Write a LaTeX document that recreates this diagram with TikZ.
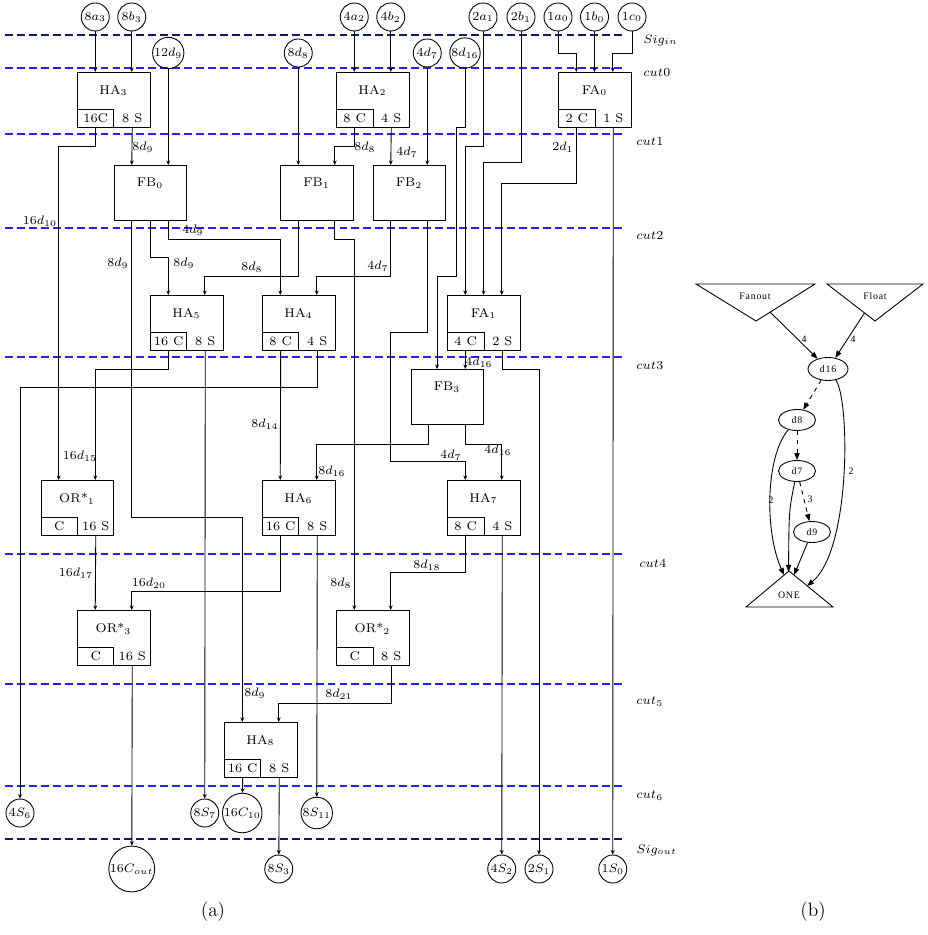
\documentclass[tikz,border=0pt]{standalone}
\usepackage{fontspec}
\newfontfamily\gvfont[LetterSpace=8]{Liberation Serif}
\usetikzlibrary{arrows.meta,shapes.geometric}
\definecolor{cutblue}{RGB}{35,35,245}
\definecolor{sigblue}{RGB}{20,20,120}
\tikzset{
  box/.style={draw, line width=0.5pt, minimum width=1.46cm, minimum height=1.1cm, inner sep=0pt, anchor=north west},
  subl/.style={draw, line width=0.5pt, minimum width=0.73cm, minimum height=0.36cm, inner sep=0pt, anchor=south west},
  subr/.style={minimum width=0.73cm, minimum height=0.36cm, inner sep=0pt, anchor=south east},
  sig/.style={circle, draw, line width=0.5pt, minimum size=0.56cm, inner sep=0.3pt},
  wire/.style={line width=0.5pt, -{Stealth[length=2.6pt,width=2.2pt]}},
  lab/.style={inner sep=0pt},
  cutline/.style={cutblue, dash pattern=on 4.5pt off 2.3pt, line width=0.6pt},
  sigline/.style={sigblue, dash pattern=on 4.5pt off 2.3pt, line width=0.6pt},
  gv/.style={line width=0.5pt},
  garr/.style={line width=0.5pt, -{Triangle[length=4pt,width=3pt]}},
  gdash/.style={dash pattern=on 2.5pt off 2.5pt},
  gnode/.style={ellipse, draw, line width=0.5pt, inner sep=0pt, font=\gvfont\fontsize{5.6}{6.5}\selectfont},
  gtxt/.style={inner sep=0pt, font=\gvfont\fontsize{5.6}{6.5}\selectfont},
}
\newcommand\mkblock[6]{%
  \node[box] (#1) at (#2,#3) {};
  \node[lab] (#1t) at ({#2+36.5},{#3+18.5}) {#4};
  \node[subl] (#1l) at (#1.south west) {#5};
  \node[subr] (#1r) at (#1.south east) {#6};
  \coordinate (#1i1) at ({#2+18.25},#3);
  \coordinate (#1im) at ({#2+36.5},#3);
  \coordinate (#1i2) at ({#2+54.75},#3);
}
\newcommand\mkfb[4]{%
  \node[box] (#1) at (#2,#3) {};
  \node[lab] (#1t) at ({#2+36.5},{#3+18.5}) {#4};
  \coordinate (#1i1) at ({#2+18.25},#3);
  \coordinate (#1i2) at ({#2+54.75},#3);
  \coordinate (#1o1) at ({#2+18.25},{#3+55});
  \coordinate (#1om) at ({#2+36.5},{#3+55});
  \coordinate (#1o2) at ({#2+54.75},{#3+55});
}
\begin{document}
\begin{tikzpicture}[x=0.02cm,y=-0.02cm,font=\fontsize{7.2}{8.6}\selectfont]
\useasboundingbox (0,0) rectangle (927,935);

% cut lines
\draw[sigline] (5,35) -- (623,35);
\draw[cutline] (5,68) -- (623,68);
\draw[cutline] (5,134) -- (623,134);
\draw[cutline] (5,228) -- (623,228);
\draw[cutline] (5,357) -- (623,357);
\draw[cutline] (5,554) -- (623,554);
\draw[cutline] (5,684) -- (623,684);
\draw[cutline] (5,786) -- (623,786);
\draw[sigline] (5,839) -- (623,839);
\node[lab,anchor=west] (Lsigin) at (643,40) {$Sig_{in}$};
\node[lab,anchor=west] (Lc0) at (643,73) {$cut0$};
\node[lab,anchor=west] (Lc1) at (636,142) {$cut1$};
\node[lab,anchor=west] (Lc2) at (636,236) {$cut2$};
\node[lab,anchor=west] (Lc3) at (636,366) {$cut3$};
\node[lab,anchor=west] (Lc4) at (639,564) {$cut4$};
\node[lab,anchor=west] (Lc5) at (636,702) {$cut_5$};
\node[lab,anchor=west] (Lc6) at (636,796) {$cut_6$};
\node[lab,anchor=west] (Lsigout) at (636,850) {$Sig_{out}$};

% blocks
\mkblock{HA3}{77}{72}{HA$_3$}{16C}{8 S}
\mkblock{HA2}{336}{72}{HA$_2$}{8 C}{4 S}
\mkblock{FA0}{558}{72}{FA$_0$}{2 C}{1 S}
\mkfb{FB0}{113.5}{165}{FB$_0$}
\mkfb{FB1}{280}{165}{FB$_1$}
\mkfb{FB2}{372.5}{165}{FB$_2$}
\mkblock{HA5}{150}{295}{HA$_5$}{16 C}{8 S}
\mkblock{HA4}{262}{295}{HA$_4$}{8 C}{4 S}
\mkblock{FA1}{447}{295}{FA$_1$}{4 C}{2 S}
\mkfb{FB3}{410.5}{369}{FB$_3$}
\coordinate (FB3ia) at (437,369);
\mkblock{OR1}{40.5}{480}{OR*$_1$}{C}{16 S}
\mkblock{HA6}{262}{480}{HA$_6$}{16 C}{8 S}
\mkblock{HA7}{447}{480}{HA$_7$}{8 C}{4 S}
\mkblock{OR3}{77}{610}{OR*$_3$}{C}{16 S}
\mkblock{OR2}{336}{610}{OR*$_2$}{C}{8 S}
\mkblock{HA8}{224}{722}{HA$_8$}{16 C}{8 S}

% signal circles
\node[sig] (s8a3) at (95.25,17) {$8a_3$};
\node[sig] (s8b3) at (131.75,17) {$8b_3$};
\node[sig] (s4a2) at (354.25,17) {$4a_2$};
\node[sig] (s4b2) at (390.75,17) {$4b_2$};
\node[sig] (s2a1) at (483,17) {$2a_1$};
\node[sig] (s2b1) at (521,17) {$2b_1$};
\node[sig] (s1a0) at (558,17) {$1a_0$};
\node[sig] (s1b0) at (594.5,17) {$1b_0$};
\node[sig] (s1c0) at (632,17) {$1c_0$};
\node[sig] (s12d9) at (168.25,53) {$12d_9$};
\node[sig] (s8d8) at (298.25,53) {$8d_8$};
\node[sig] (s4d7) at (427.25,53) {$4d_7$};
\node[sig] (s8d16) at (465,53) {$8d_{16}$};
\node[sig] (s4S6) at (20,813) {$4S_6$};
\node[sig] (s8S7) at (204.75,813) {$8S_7$};
\node[sig, minimum size=0.72cm] (s16C10) at (242.25,813) {$16C_{10}$};
\node[sig] (s8S11) at (316.75,813) {$8S_{11}$};
\node[sig, minimum size=0.8cm] (s16Cout) at (131.75,869) {$16C_{out}$};
\node[sig] (s8S3) at (278.75,869) {$8S_3$};
\node[sig] (s4S2) at (501.75,869) {$4S_2$};
\node[sig] (s2S1) at (539,869) {$2S_1$};
\node[sig] (s1S0) at (612.75,869) {$1S_0$};

% wires
\draw[wire] (s8a3) -- (HA3i1);
\draw[wire] (s8b3) -- (HA3i2);
\draw[wire] (HA3l.south) -- ++(0,19) -| (OR1i1);
\draw[wire] (HA3r.south) -- (FB0i1);
\draw[wire] (s12d9) -- (FB0i2);
\draw[wire] (s8d8) -- (FB1i1);
\draw[wire] (FB0o1) -- ++(0,297) -| (HA8i1);
\draw[wire] (FB0om) -- ++(0,37) -| (HA5i1);
\draw[wire] (FB0o2) -- ++(0,19) -| (HA4i1);
\draw[wire] (FB1o1) -- ++(0,56) -| (HA5i2);
\draw[wire] (FB1o2) -- ++(0,19) -| (OR2i1);
\draw[wire] (s4a2) -- (HA2i1);
\draw[wire] (s4b2) -- (HA2i2);
\draw[wire] (HA2l.south) -- ++(0,19) -| (FB1i2);
\draw[wire] (HA2r.south) -- (FB2i1);
\draw[wire] (s4d7) -- (FB2i2);
\draw[wire] (FB2o1) -- ++(0,56) -| (HA4i2);
\draw[wire] (FB2o2) -- ++(0,112) -- ++(-36.5,0) -- ++(0,129) -| (HA7i1);
\draw[wire] (s8d16) -- ++(0,74) -- ++(-9,0) -- ++(0,149) -| (FB3ia);
\draw[wire] (s2a1) -- ++(0,129) -| (FA1i1);
\draw[wire] (s2b1) -- ++(0,145) -| (FA1im);
\draw[wire] (FA0l.south) -- ++(0,56) -| (FA1i2);
\draw[wire] (FA0r.south) -- (s1S0);
\draw[wire] (s1a0) -- ++(0,36) -| (FA0i1);
\draw[wire] (s1b0) -- (FA0im);
\draw[wire] (s1c0) -- ++(0,36) -| (FA0i2);
\draw[wire] (FA1l.south) -- (FB3i2);
\draw[wire] (FA1r.south) -- ++(0,19) -| (s2S1);
\draw[wire] (FB3o1) -- ++(0,20) -| (HA6i2);
\draw[wire] (FB3o2) -- ++(0,20) -| (HA7i2);
\draw[wire] (HA5l.south) -- ++(0,19) -| (OR1i2);
\draw[wire] (HA5r.south) -- (s8S7);
\draw[wire] (HA4l.south) -- (HA6i1);
\draw[wire] (HA4r.south) -- ++(0,37) -| (s4S6);
\draw[wire] (OR1r.south) -- (OR3i1);
\draw[wire] (HA6l.south) -- ++(0,56) -| (OR3i2);
\draw[wire] (HA6r.south) -- (s8S11);
\draw[wire] (HA7l.south) -- ++(0,37) -| (OR2i2);
\draw[wire] (HA7r.south) -- (s4S2);
\draw[wire] (OR3r.south) -- (s16Cout);
\draw[wire] (OR2r.south) -- ++(0,38) -| (HA8i2);
\draw[wire] (HA8l.south) -- (s16C10);
\draw[wire] (HA8r.south) -- (s8S3);

% wire labels
\node[lab] (w1) at (40,221) {$16d_{10}$};
\node[lab] (w2) at (143,147) {$8d_9$};
\node[lab] (w3) at (118,263) {$8d_9$};
\node[lab] (w4) at (184,263) {$8d_9$};
\node[lab] (w5) at (193,230) {$4d_9$};
\node[lab] (w6) at (252,267) {$8d_8$};
\node[lab] (w7) at (365,147) {$8d_8$};
\node[lab] (w8) at (407,152) {$4d_7$};
\node[lab] (w9) at (378,266) {$4d_7$};
\node[lab] (w10) at (563,147) {$2d_1$};
\node[lab] (w11) at (479,362) {$4d_{16}$};
\node[lab] (w12) at (498,450) {$4d_{16}$};
\node[lab] (w13) at (451,455) {$4d_7$};
\node[lab] (w14) at (332,471) {$8d_{16}$};
\node[lab] (w15) at (80,456) {$16d_{15}$};
\node[lab] (w16) at (265,424) {$8d_{14}$};
\node[lab] (w17) at (76,573) {$16d_{17}$};
\node[lab] (w18) at (149,583) {$16d_{20}$};
\node[lab] (w19) at (427,565) {$8d_{18}$};
\node[lab] (w20) at (341,583) {$8d_8$};
\node[lab] (w21) at (255,693) {$8d_9$};
\node[lab] (w22) at (339,694) {$8d_{21}$};

% part (b)
\draw[gv] (696,284) -- (815,284) -- (756,321) -- cycle;
\draw[gv] (827,284) -- (923,284) -- (875,321) -- cycle;
\draw[gv] (789,571) -- (833,607) -- (746,607) -- cycle;
\node[gtxt] (fanout) at (755,296) {Fanout};
\node[gtxt] (float) at (875,296) {Float};
\node[gtxt] (one) at (789,595) {ONE};
\coordinate (fanP) at (770,312);
\coordinate (floP) at (864.5,313);
\coordinate (oneA) at (784,575);
\coordinate (oneB) at (788.5,572);
\coordinate (oneC) at (794,575);
\coordinate (oneD) at (807,586);
\node[gnode, minimum width=0.8cm, minimum height=0.46cm] (d16) at (828,369) {d16};
\node[gnode, minimum width=0.74cm, minimum height=0.42cm] (d8) at (797,420) {d8};
\node[gnode, minimum width=0.74cm, minimum height=0.42cm] (d7) at (797,471) {d7};
\node[gnode, minimum width=0.74cm, minimum height=0.42cm] (d9) at (812,532) {d9};
\draw[garr] (fanP) -- (d16);
\draw[garr] (floP) -- (d16);
\draw[garr,gdash] (d16) -- (d8);
\draw[garr,gdash] (d8) -- (d7);
\draw[garr,gdash] (d7) -- (d9);
\draw[garr] (d16) .. controls (850,400) and (851,550) .. (oneD);
\draw[garr] (d8) .. controls (766,455) and (764,530) .. (oneA);
\draw[garr] (d7) .. controls (789,510) .. (oneB);
\draw[garr] (d9) -- (oneC);
\node[gtxt] (g1) at (804,339) {4};
\node[gtxt] (g2) at (853,339) {4};
\node[gtxt] (g3) at (771,500) {2};
\node[gtxt] (g4) at (851,471) {2};
\node[gtxt] (g5) at (810,499) {3};

% captions
\node[lab, font=\fontsize{11}{13}\selectfont] (capa) at (213,912) {(a)};
\node[lab, font=\fontsize{11}{13}\selectfont] (capb) at (813,912) {(b)};
\end{tikzpicture}
\end{document}
